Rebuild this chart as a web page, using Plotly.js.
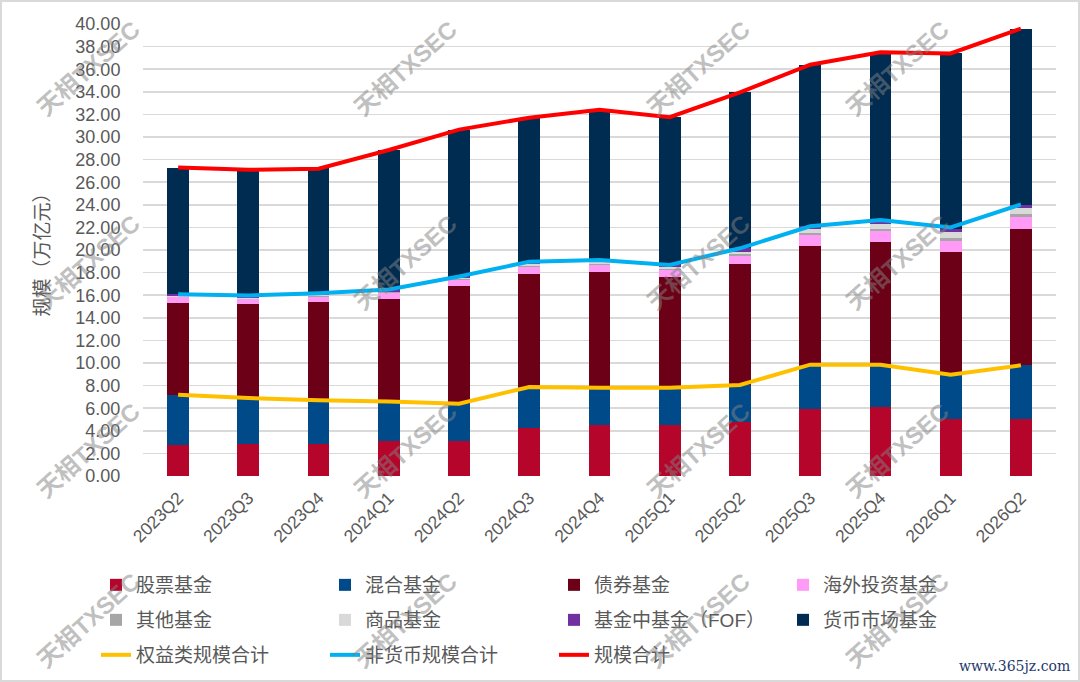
<!DOCTYPE html>
<html>
<head>
<meta charset="utf-8">
<script src="https://cdn.plot.ly/plotly-3.0.1.min.js"></script>
<style>
  html, body { margin: 0; padding: 0; background: #fff; }
  #chart { width: 1080px; height: 682px; box-sizing: border-box; border: 2px solid #d9d9d9; }
</style>
</head>
<body>
<div id="chart"></div>
<script>
// quarters on the x axis
const quarters = ['2023Q2', '2023Q3', '2023Q4', '2024Q1', '2024Q2', '2024Q3', '2024Q4',
                  '2025Q1', '2025Q2', '2025Q3', '2025Q4', '2026Q1', '2026Q2'];

// stacked segments, 万亿元
const stockFund     = [2.74, 2.85, 2.85, 3.09, 3.09, 4.26, 4.47, 4.47, 4.76, 5.94, 6.09, 5.06, 5.06];
const mixedFund     = [4.46, 4.05, 3.85, 3.51, 3.31, 3.62, 3.33, 3.33, 3.30, 3.91, 3.76, 3.91, 4.74];
const bondFund      = [8.15, 8.34, 8.74, 9.08, 10.45, 9.97, 10.23, 9.85, 10.70, 10.53, 10.89, 10.88, 12.10];
const overseasFund  = [0.45, 0.41, 0.44, 0.50, 0.50, 0.65, 0.65, 0.59, 0.71, 0.94, 0.96, 0.97, 1.00];
const otherFund     = [0.05, 0.05, 0.05, 0.06, 0.06, 0.10, 0.10, 0.10, 0.15, 0.20, 0.20, 0.25, 0.30];
const commodityFund = [0.05, 0.06, 0.07, 0.08, 0.09, 0.13, 0.14, 0.14, 0.23, 0.30, 0.40, 0.50, 0.50];
const fofFund       = [0.18, 0.20, 0.18, 0.18, 0.15, 0.24, 0.20, 0.20, 0.30, 0.28, 0.35, 0.25, 0.30];
const moneyFund     = [11.20, 11.12, 11.05, 12.35, 13.00, 12.73, 13.28, 13.07, 13.80, 14.30, 14.85, 15.58, 15.60];

// totals drawn as lines
const equityTotal   = [7.20, 6.90, 6.70, 6.60, 6.40, 7.88, 7.80, 7.80, 8.06, 9.85, 9.85, 8.97, 9.80];
const nonMoneyTotal = [16.08, 15.97, 16.18, 16.50, 17.65, 18.97, 19.12, 18.68, 20.15, 22.10, 22.65, 22.00, 24.03];
const grandTotal    = [27.30, 27.10, 27.20, 28.85, 30.65, 31.70, 32.40, 31.75, 33.95, 36.40, 37.50, 37.40, 39.60];

const font = 'Arial, "Noto Sans CJK SC", sans-serif';
const textColor = '#595959';

// legend: which row each series sits on
const barSeries = [
  { name: '股票基金', data: stockFund, color: '#B5052B', legend: 'legend' },
  { name: '混合基金', data: mixedFund, color: '#004A8A', legend: 'legend' },
  { name: '债券基金', data: bondFund, color: '#6C0016', legend: 'legend' },
  { name: '海外投资基金', data: overseasFund, color: '#FF9BF7', legend: 'legend' },
  { name: '其他基金', data: otherFund, color: '#A6A6A6', legend: 'legend2' },
  { name: '商品基金', data: commodityFund, color: '#D9D9D9', legend: 'legend2' },
  { name: '基金中基金（FOF）', data: fofFund, color: '#7030A0', legend: 'legend2' },
  { name: '货币市场基金', data: moneyFund, color: '#002C51', legend: 'legend2' }
];

const lineSeries = [
  { name: '权益类规模合计', data: equityTotal, color: '#FFC000' },
  { name: '非货币规模合计', data: nonMoneyTotal, color: '#00B0F0' },
  { name: '规模合计', data: grandTotal, color: '#FF0000' }
];

const traces = barSeries.map(s => ({
  type: 'bar',
  x: quarters,
  y: s.data,
  name: s.name,
  legend: s.legend,
  marker: { color: s.color, line: { width: 0 } }
})).concat(lineSeries.map(s => ({
  type: 'scatter',
  mode: 'lines',
  x: quarters,
  y: s.data,
  name: s.name,
  legend: 'legend3',
  line: { color: s.color, width: 4 }
})));

// pixel -> paper helpers (plot area in the 1080x682 picture)
const plotL = 143, plotT = 24, plotW = 913, plotH = 452;
const px2x = px => (px - plotL) / plotW;
const py2y = py => 1 - (py - plotT) / plotH;
// pixel -> container fraction (figure is 1076x678 inside a 2px border)
const cx = px => (px - 2) / 1076;
const cy = py => 1 - (py - 2) / 678;

// watermark grid
const markXs = [88, 405, 698, 897];
const markYs = [68, 262, 450, 620];
const annotations = [];
markYs.forEach(py => markXs.forEach(px => {
  annotations.push({
    xref: 'paper', yref: 'paper',
    x: px2x(px), y: py2y(py),
    xanchor: 'center', yanchor: 'middle',
    text: '<b>天相TXSEC</b>',
    showarrow: false, textangle: -42,
    font: { family: font, size: 24, color: 'rgba(130,130,130,0.5)' }
  });
}));
annotations.push({
  xref: 'paper', yref: 'paper',
  x: px2x(1072), y: py2y(666),
  xanchor: 'right', yanchor: 'middle',
  text: 'www.365jz.com', showarrow: false,
  font: { family: '"DejaVu Serif", serif', size: 14, color: '#1F3A6E' }
});

const legendBase = {
  orientation: 'h',
  xref: 'container', yref: 'container',
  x: cx(96), xanchor: 'left',
  yanchor: 'middle',
  entrywidth: 184,
  font: { size: 19, color: textColor },
  traceorder: 'normal',
  itemwidth: 30,
  bgcolor: 'rgba(0,0,0,0)'
};

const layout = {
  width: 1076,
  height: 678,
  font: { family: font, size: 18, color: textColor },
  paper_bgcolor: '#fff',
  plot_bgcolor: '#fff',
  barmode: 'stack',
  bargap: 0.69,
  showlegend: true,
  margin: { l: 141, r: 22, t: 22, b: 204, autoexpand: false },
  xaxis: {
    type: 'category',
    tickangle: -45,
    tickfont: { size: 17.5, color: textColor },
    ticks: 'outside', ticklen: 4, tickcolor: 'rgba(0,0,0,0)',
    showgrid: false, showline: false, zeroline: false
  },
  yaxis: {
    range: [0, 40],
    dtick: 2,
    tickformat: '.2f',
    tickfont: { size: 18, color: textColor },
    ticks: 'outside', ticklen: 18, tickcolor: 'rgba(0,0,0,0)',
    gridcolor: '#D9D9D9', gridwidth: 1.5,
    showline: false, zeroline: false,
    title: { text: '规模（万亿元）', font: { size: 19, color: textColor }, standoff: 20 }
  },
  legend: Object.assign({}, legendBase, { y: cy(585) }),
  legend2: Object.assign({}, legendBase, { y: cy(620) }),
  legend3: Object.assign({}, legendBase, { y: cy(655) }),
  annotations
};

Plotly.newPlot('chart', traces, layout, { displayModeBar: false, staticPlot: true });
</script>
</body>
</html>
